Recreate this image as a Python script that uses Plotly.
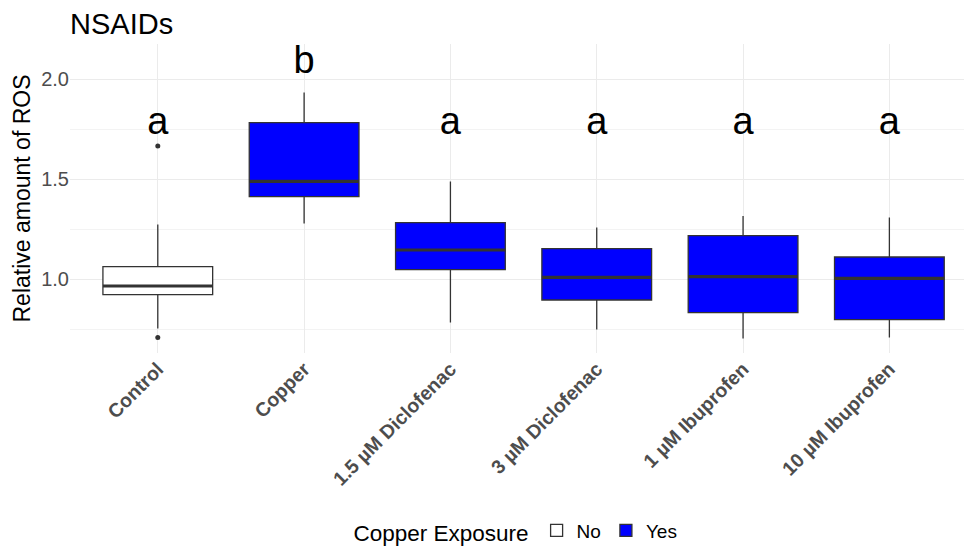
import plotly.graph_objects as go

categories = ["Control", "Copper", "1.5 µM Diclofenac", "3 µM Diclofenac", "1 µM Ibuprofen", "10 µM Ibuprofen"]
exposure = ["No", "Yes", "Yes", "Yes", "Yes", "Yes"]
lower_whisker = [0.753, 1.277, 0.782, 0.748, 0.702, 0.708]
q1_vals = [0.922, 1.412, 1.047, 0.895, 0.832, 0.797]
median_vals = [0.965, 1.488, 1.145, 1.008, 1.012, 1.003]
q3_vals = [1.062, 1.782, 1.282, 1.152, 1.217, 1.110]
upper_whisker = [1.273, 1.933, 1.487, 1.257, 1.315, 1.307]
outlier_cat = ["Control", "Control"]
outlier_vals = [1.665, 0.708]
letters = ["a", "b", "a", "a", "a", "a"]
letter_y = [1.775, 2.08, 1.775, 1.775, 1.775, 1.775]

fill_colors = {"No": "white", "Yes": "#0000FF"}
line_col = "#333333"
box_w = 0.75
pos = {c: i for i, c in enumerate(categories)}

fig = go.Figure()
for grp in ["No", "Yes"]:
    idx = [i for i, e in enumerate(exposure) if e == grp]
    fig.add_trace(go.Box(
        name=grp,
        x=[pos[categories[i]] for i in idx],
        q1=[q1_vals[i] for i in idx],
        median=[median_vals[i] for i in idx],
        q3=[q3_vals[i] for i in idx],
        lowerfence=[lower_whisker[i] for i in idx],
        upperfence=[upper_whisker[i] for i in idx],
        fillcolor=fill_colors[grp],
        line=dict(color=line_col, width=1.3),
        whiskerwidth=0,
        width=box_w,
        boxpoints=False,
        hoverinfo="skip",
    ))

# thicker median lines (ggplot fatten)
for i, c in enumerate(categories):
    fig.add_trace(go.Scatter(
        x=[pos[c] - box_w / 2, pos[c] + box_w / 2],
        y=[median_vals[i], median_vals[i]],
        mode="lines", line=dict(color=line_col, width=3.2),
        showlegend=False, hoverinfo="skip",
    ))

fig.add_trace(go.Scatter(
    x=[pos[c] for c in outlier_cat], y=outlier_vals, mode="markers",
    marker=dict(color=line_col, size=5), showlegend=False, hoverinfo="skip",
))

fig.add_trace(go.Scatter(
    x=[pos[c] for c in categories], y=letter_y, mode="text", text=letters,
    textposition="middle center",
    textfont=dict(size=38, color="black", family="Arial, Liberation Sans"),
    showlegend=False, hoverinfo="skip",
))

fig.update_layout(
    width=964, height=548,
    margin=dict(l=70, r=0, t=44, b=195, autoexpand=False),
    paper_bgcolor="white", plot_bgcolor="white",
    font=dict(family="Arial, Liberation Sans", color="black"),
    boxmode="overlay",
    title=dict(text="NSAIDs", x=0, xref="paper", xanchor="left",
               y=1 - 24 / 548, yref="container", yanchor="middle",
               font=dict(size=29, color="black")),
    legend=dict(orientation="h", x=0.5, xanchor="center", y=-0.578, yanchor="middle",
                xref="paper", yref="paper",
                title=dict(text="Copper Exposure", font=dict(size=22.5, color="black")),
                font=dict(size=19, color="black"), itemwidth=30),
    showlegend=True,
)
fig.update_xaxes(
    range=[-0.6, 5.51], tickmode="array", tickvals=list(range(len(categories))),
    ticktext=categories, tickangle=-45, automargin=False,
    tickfont=dict(size=19.5, color="#4D4D4D", weight="bold"),
    showgrid=True, gridcolor="#EBEBEB", gridwidth=1.2, zeroline=False,
    showline=False, ticks="",
)
fig.update_yaxes(
    range=[0.63, 2.175], tickvals=[1.0, 1.5, 2.0], ticktext=["1.0", "1.5", "2.0"],
    tickfont=dict(size=20, color="#4D4D4D"), automargin=False,
    showgrid=True, gridcolor="#EBEBEB", gridwidth=1.2, zeroline=False,
    minor=dict(tickvals=[0.75, 1.25, 1.75], showgrid=True, gridcolor="#F3F3F3", gridwidth=1),
    title=dict(text="Relative amount of ROS", font=dict(size=23, color="black"), standoff=4),
    ticks="", showline=False,
)

fig.write_html("out.html")
